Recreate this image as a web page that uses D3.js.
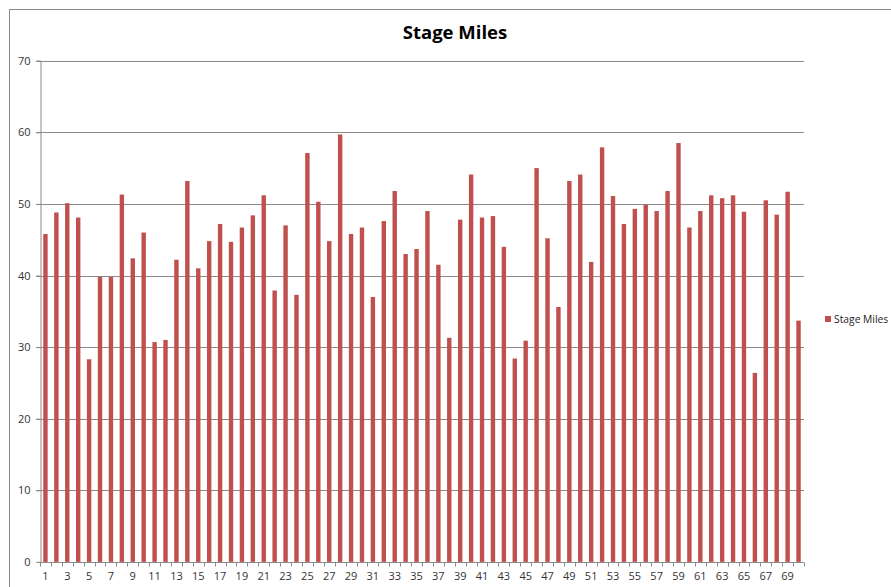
<!DOCTYPE html>
<html><head><meta charset="utf-8">
<script src="https://cdn.jsdelivr.net/npm/d3@7"></script>
<style>body{margin:0;background:#fff;}svg{display:block;}</style>
</head><body>
<script>
const categories = d3.range(1, 71).map(String);
const stageMiles = [45.8,48.8,50.1,48.1,28.3,39.8,39.8,51.3,42.4,46.0,
  30.7,31.0,42.2,53.2,41.0,44.8,47.2,44.7,46.7,48.4,
  51.2,37.9,47.0,37.3,57.1,50.3,44.8,59.7,45.8,46.7,
  37.0,47.6,51.8,43.0,43.7,49.0,41.5,31.3,47.8,54.1,
  48.1,48.3,44.0,28.4,30.9,55.0,45.2,35.6,53.2,54.1,
  41.9,57.9,51.1,47.2,49.3,49.9,49.0,51.8,58.5,46.7,
  49.0,51.2,50.8,51.2,48.9,26.4,50.5,48.5,51.7,33.7];
const yTicks = [0,10,20,30,40,50,60,70];
const seriesName = "Stage Miles";
const title = "Stage Miles";

const W = 891, H = 587;
const m = {left:40, right:804, top:60.7, bottom:561.9};
const svg = d3.select("body").append("svg").attr("width", W).attr("height", H);
const font = "'Open Sans', 'DejaVu Sans', sans-serif";

// outer chart border
svg.append("rect").attr("x", 9.5).attr("y", 9.5).attr("width", W).attr("height", H)
  .attr("fill", "none").attr("stroke", "#8c8c8c").attr("stroke-width", 1);

const xb = d3.scaleBand().domain(categories).range([m.left, m.right]);
const y = d3.scaleLinear().domain([0, 70]).range([m.bottom, m.top]);

// gridlines
svg.append("g").selectAll("line").data(yTicks.filter(d => d > 0)).join("line")
  .attr("x1", m.left - 4).attr("x2", m.right)
  .attr("y1", d => Math.round(y(d)) + 0.5).attr("y2", d => Math.round(y(d)) + 0.5)
  .attr("stroke", "#8a8a8a").attr("stroke-width", 1);

// bars
svg.append("g").selectAll("rect").data(stageMiles).join("rect")
  .attr("x", (d, i) => xb(categories[i]) + xb.bandwidth() / 2 - 2.2)
  .attr("width", 4.4)
  .attr("y", d => y(d))
  .attr("height", d => y(0) - y(d))
  .attr("fill", "#c0504d");

// y axis
const yAxis = svg.append("g").attr("transform", `translate(${m.left + 0.5},0)`)
  .call(d3.axisLeft(y).tickValues(yTicks).tickSize(4).tickPadding(6));
yAxis.select(".domain").attr("stroke", "#8a8a8a");
yAxis.selectAll(".tick line").attr("stroke", "#8a8a8a");
yAxis.selectAll("text").attr("font-family", font).attr("font-size", 11).attr("fill", "#333");

// x axis
const xAxisG = svg.append("g").attr("transform", `translate(0,${Math.round(y(0)) + 0.5})`);
xAxisG.append("line").attr("x1", m.left).attr("x2", m.right).attr("stroke", "#8a8a8a");
xAxisG.selectAll("line.tk").data(d3.range(0, 71)).join("line").attr("class", "tk")
  .attr("x1", i => Math.round(m.left + i * xb.step()) + 0.5)
  .attr("x2", i => Math.round(m.left + i * xb.step()) + 0.5)
  .attr("y1", 0).attr("y2", 4).attr("stroke", "#8a8a8a");
xAxisG.selectAll("text").data(categories.filter((c, i) => i % 2 === 0)).join("text")
  .attr("x", c => xb(c) + xb.bandwidth() / 2)
  .attr("y", 17)
  .attr("text-anchor", "middle")
  .attr("font-family", font).attr("font-size", 11).attr("fill", "#333")
  .text(c => c);

// title
svg.append("text").attr("x", 455).attr("y", 39).attr("text-anchor", "middle")
  .attr("font-family", "'Open Sans', sans-serif").attr("font-weight", "bold").attr("font-size", 18.5)
  .attr("fill", "#000").text(title);

// legend
svg.append("rect").attr("x", 825).attr("y", 316).attr("width", 6).attr("height", 6).attr("fill", "#c0504d");
svg.append("text").attr("x", 834).attr("y", 323).attr("font-family", font).attr("font-size", 10.3)
  .attr("fill", "#222").text(seriesName);
</script>
</body></html>
